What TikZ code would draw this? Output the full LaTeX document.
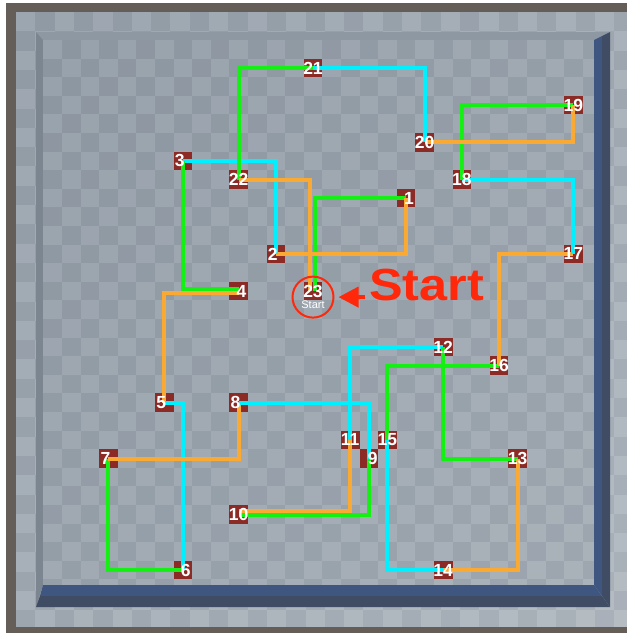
\documentclass[tikz,border=0pt]{standalone}
\usepackage{fontspec}
\setsansfont{Liberation Sans}
\usetikzlibrary{arrows.meta, positioning}
\definecolor{framebrown}{HTML}{655D57}
\definecolor{rimlightA}{HTML}{9CA6B0}
\definecolor{rimdarkA}{HTML}{909AA4}
\definecolor{rimlightB}{HTML}{B5BDC3}
\definecolor{rimdarkB}{HTML}{A9B1B9}
\definecolor{floorlightA}{HTML}{98A2AC}
\definecolor{floordarkA}{HTML}{8C96A0}
\definecolor{floorlightB}{HTML}{AAB2BA}
\definecolor{floordarkB}{HTML}{9EA7B0}
\definecolor{topface}{HTML}{8E98A2}
\definecolor{leftface}{HTML}{7C8690}
\definecolor{wallblue}{HTML}{3E5680}
\definecolor{walldark}{HTML}{404C64}
\definecolor{markerred}{HTML}{8C2A26}
\definecolor{pathgreen}{RGB}{20,240,20}
\definecolor{pathorange}{RGB}{250,170,50}
\definecolor{pathcyan}{RGB}{0,240,255}
\definecolor{startred}{RGB}{255,40,10}

\begin{document}
\begin{tikzpicture}[
    x=1pt, y=-1pt,
    marker/.style={rectangle, fill=markerred, minimum size=18.6pt, inner sep=0pt},
    num/.style={font=\sffamily\bfseries\fontsize{17.5}{17.5}\selectfont, text=white, inner sep=0pt},
    greenpath/.style={draw=pathgreen, line width=4pt},
    orangepath/.style={draw=pathorange, line width=4pt},
    cyanpath/.style={draw=pathcyan, line width=4pt},
    ring/.style={circle, draw=startred, line width=2pt, minimum size=41pt, inner sep=0pt},
    smallstart/.style={font=\sffamily\fontsize{11}{11}\selectfont, text=white, inner sep=0pt},
    bigstart/.style={font=\sffamily\bfseries\fontsize{45}{45}\selectfont, text=startred, inner sep=0pt},
    startarrow/.style={draw=startred, line width=4pt, -{Triangle[length=20pt, width=20pt]}}
]
\useasboundingbox (0,0) rectangle (627,633);
\fill[white] (0,0) rectangle (627,633);
\fill[framebrown] (6,3) rectangle (627,633);

% outer rim
\begin{scope}
  \clip (16,12) rectangle (627,626);
  \foreach \i in {0,...,31} \foreach \j in {0,...,31} {
    \pgfmathtruncatemacro\t{min(100,(\i+\j)*100/62)}
    \pgfmathtruncatemacro\p{mod(\i+\j,2)}
    \ifnum\p=0 \def\cc{rimlightB!\t!rimlightA}\else \def\cc{rimdarkB!\t!rimdarkA}\fi
    \fill[\cc] ({16+19.3*\i},{12+19.3*\j}) rectangle +(19.5,19.5);
  }
\end{scope}

% walls seen from above
\fill[topface] (36,32) -- (610,32) -- (594,40) -- (43,40) -- cycle;
\fill[leftface] (36,32) -- (43,40) -- (43,585) -- (36,607) -- cycle;

% floor
\begin{scope}
  \clip (43,40) rectangle (594,585);
  \foreach \i in {0,...,29} \foreach \j in {0,...,29} {
    \pgfmathtruncatemacro\t{min(100,(\i+\j)*100/58)}
    \pgfmathtruncatemacro\p{mod(\i+\j,2)}
    \ifnum\p=0 \def\cc{floorlightB!\t!floorlightA}\else \def\cc{floordarkB!\t!floordarkA}\fi
    \fill[\cc] ({43.3+18.6*\i},{40+18.6*\j}) rectangle +(18.8,18.8);
  }
\end{scope}

\fill[wallblue] (594,40) -- (602,36) -- (602,596) -- (594,585) -- cycle;
\fill[walldark] (602,36) -- (610,32) -- (610,607) -- (602,596) -- cycle;
\fill[wallblue] (43,585) -- (594,585) -- (602,596) -- (40,596) -- cycle;
\fill[walldark] (40,596) -- (602,596) -- (610,607) -- (36,607) -- cycle;

% waypoints
\foreach \n/\c/\r in {1/19/8, 2/12/11, 3/7/6, 4/10/13, 5/6/19, 6/7/28, 7/3/22, 8/10/19,
    9/17/22, 10/10/25, 11/16/21, 12/21/16, 13/25/22, 14/21/28, 15/18/21, 16/24/17,
    17/28/11, 18/22/7, 19/28/3, 20/20/5, 21/14/1, 22/10/7, 23/14/13}
  \node[marker] (m\n) at ({52.6+18.6*\c},{49.3+18.6*\r}) {};

% route
\draw[greenpath] ([xshift=2pt]m23.center) |- (m1.center);
\draw[orangepath] (m1.center) |- (m2.center);
\draw[cyanpath] (m2.center) |- (m3.center);
\draw[greenpath] (m3.center) |- ([yshift=2pt]m4.center);
\draw[orangepath] ([yshift=-2pt]m4.center) -| (m5.center);
\draw[cyanpath] (m5.center) -| (m6.center);
\draw[greenpath] (m6.center) -| (m7.center);
\draw[orangepath] (m7.center) -| (m8.center);
\draw[cyanpath] (m8.center) -| (m9.center);
\draw[greenpath] (m9.center) |- ([yshift=-1pt]m10.center);
\draw[orangepath] ([yshift=3pt]m10.center) -| (m11.center);
\draw[cyanpath] (m11.center) |- (m12.center);
\draw[greenpath] (m12.center) |- (m13.center);
\draw[orangepath] (m13.center) |- (m14.center);
\draw[cyanpath] (m14.center) -| (m15.center);
\draw[greenpath] (m15.center) |- (m16.center);
\draw[orangepath] (m16.center) |- (m17.center);
\draw[cyanpath] (m17.center) |- (m18.center);
\draw[greenpath] (m18.center) |- (m19.center);
\draw[orangepath] (m19.center) |- (m20.center);
\draw[cyanpath] (m20.center) |- (m21.center);
\draw[greenpath] (m21.center) -| (m22.center);
\draw[orangepath] (m22.center) -| ([xshift=-3pt]m23.center);

% numbers
\foreach \n/\dx in {1/3, 2/-3, 3/-3, 4/3, 5/-3, 6/3, 7/-3, 8/-3, 9/4, 10/0, 11/0, 12/0,
    13/0, 14/0, 15/0, 16/0, 17/0, 18/0, 19/0, 20/0, 21/0, 22/0, 23/0}
  \node[num] (t\n) at ([xshift=\dx pt]m\n.center) {\n};

% start marker
\node[ring] (ring) at ([yshift=-6pt]m23.center) {};
\node[smallstart, below=3pt of t23] (sub) {Start};
\node[bigstart, anchor=base west] (startlbl) at (369,300) {\scalebox{1.12}[1]{Start}};
\draw[startarrow, shorten <=4pt, shorten >=4pt] (startlbl.west |- ring.center) -- (ring.east);
\end{tikzpicture}
\end{document}
